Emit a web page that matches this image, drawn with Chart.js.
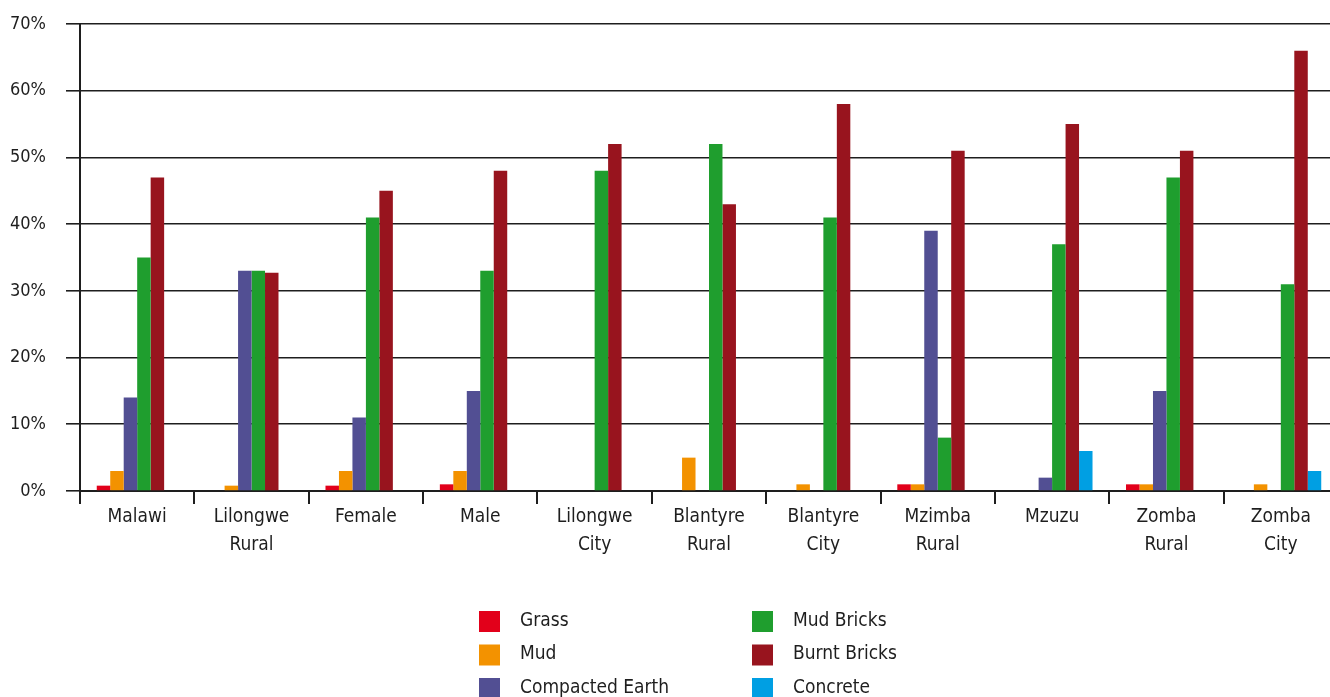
<!DOCTYPE html>
<html>
<head>
<meta charset="utf-8">
<title>Main wall material</title>
<script src="https://cdn.jsdelivr.net/npm/chart.js@4.4.1/dist/chart.umd.min.js"></script>
<style>
  html, body { margin: 0; padding: 0; background: #fff; overflow: hidden; }
  #wrap { width: 1345px; height: 697px; }
</style>
</head>
<body>
<div id="wrap"><canvas id="wallChart" width="1345" height="697"></canvas></div>
<script>
const categories = [
    'Malawi', ['Lilongwe', 'Rural'], 'Female', 'Male', ['Lilongwe', 'City'],
    ['Blantyre', 'Rural'], ['Blantyre', 'City'], ['Mzimba', 'Rural'], 'Mzuzu',
    ['Zomba', 'Rural'], ['Zomba', 'City']
];

// percent of households by main wall material
const grass          = [0.8, 0,   0.8, 1,  0,  0,  0,  1,  0,  1,  0];
const mud            = [3,   0.8, 3,   3,  0,  5,  1,  1,  0,  1,  1];
const compactedEarth = [14,  33,  11,  15, 0,  0,  0,  39, 2,  15, 0];
const mudBricks      = [35,  33,  41,  33, 48, 52, 41, 8,  37, 47, 31];
const burntBricks    = [47,  32.7,45,  48, 52, 43, 58, 51, 55, 51, 66];
const concrete       = [0,   0,   0,   0,  0,  0,  0,  0,  6,  0,  3];

const seriesNames  = ['Grass', 'Mud', 'Compacted Earth', 'Mud Bricks', 'Burnt Bricks', 'Concrete'];
const seriesValues = [grass, mud, compactedEarth, mudBricks, burntBricks, concrete];
const seriesColors = ['#e2001a', '#f39200', '#524f93', '#1f9e2e', '#98141e', '#009fe3'];

const yTicks = [0, 10, 20, 30, 40, 50, 60, 70];

const FONT = "'Liberation Sans Narrow', 'DejaVu Sans Condensed', 'Roboto', sans-serif";
const INK = '#1e1e1e';

// two-column legend under the axis labels
const boxLegend = {
    id: 'boxLegend',
    afterDraw(chart) {
        const ctx = chart.ctx;
        const colX = [479, 752];
        ctx.save();
        ctx.font = '19px ' + FONT;
        ctx.textBaseline = 'middle';
        chart.data.datasets.forEach((ds, i) => {
            const col = Math.floor(i / 3);
            const row = i % 3;
            const x = colX[col];
            const y = 611 + row * 33.5;
            ctx.fillStyle = ds.backgroundColor;
            ctx.fillRect(x, y, 21, 21);
            ctx.fillStyle = INK;
            ctx.fillText(ds.label, x + 41, y + 10);
        });
        ctx.restore();
    }
};

new Chart(document.getElementById('wallChart'), {
    type: 'bar',
    data: {
        labels: categories,
        datasets: seriesNames.map((name, i) => ({
            label: name,
            data: seriesValues[i],
            backgroundColor: seriesColors[i],
            borderWidth: 0,
            barPercentage: 1,
            categoryPercentage: 0.707
        }))
    },
    options: {
        responsive: false,
        animation: false,
        layout: { padding: { top: 24, right: 7, left: 0, bottom: 0 } },
        plugins: {
            legend: { display: false },
            tooltip: { enabled: false }
        },
        scales: {
            x: {
                afterFit(scale) {
                    scale.height = 206;
                    scale.paddingLeft = 0;
                    scale.paddingRight = 0;
                },
                grid: {
                    offset: true,
                    drawOnChartArea: false,
                    drawTicks: true,
                    tickLength: 13,
                    color: INK,
                    lineWidth: 2
                },
                border: { display: true, color: INK, width: 2 },
                ticks: {
                    color: INK,
                    font: { family: FONT, size: 19, lineHeight: 1.47 },
                    padding: -1,
                    maxRotation: 0,
                    autoSkip: false
                }
            },
            y: {
                min: 0,
                max: 70,
                afterFit(scale) {
                    scale.width = 80;
                    scale.paddingTop = 0;
                    scale.paddingBottom = 0;
                },
                afterBuildTicks(scale) { scale.ticks = yTicks.map(v => ({ value: v })); },
                grid: {
                    color: INK,
                    lineWidth: 1.6,
                    drawTicks: true,
                    tickLength: 14
                },
                border: { display: true, color: INK, width: 2 },
                ticks: {
                    color: INK,
                    font: { family: FONT, size: 18 },
                    padding: 20,
                    callback: v => v + '%'
                }
            }
        }
    },
    plugins: [boxLegend]
});
</script>
</body>
</html>
